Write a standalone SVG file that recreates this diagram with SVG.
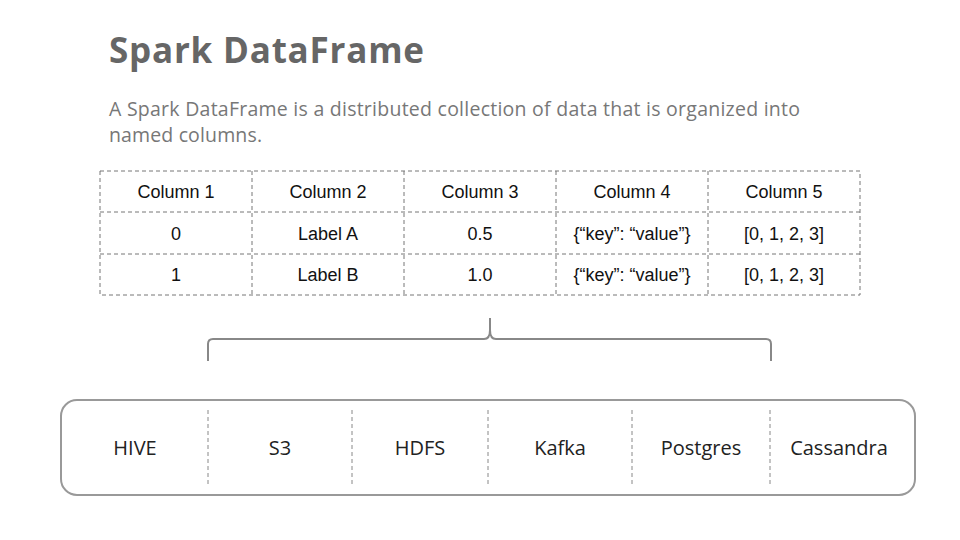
<svg xmlns="http://www.w3.org/2000/svg" width="960" height="540" viewBox="0 0 960 540">
<style>
.title{font-family:"Open Sans",Lato,sans-serif;font-weight:bold;font-size:35px;fill:#666666}
.desc{font-family:"Open Sans",Lato,sans-serif;font-size:19.5px;fill:#777777}
.cell{font-family:"Liberation Sans",Arial,sans-serif;font-size:18px;fill:#111111;text-anchor:middle}
.grid{stroke:#777777;stroke-width:1;stroke-dasharray:4 3;fill:none}
.src{font-family:"Open Sans",Lato,sans-serif;font-size:20px;fill:#222222;text-anchor:middle}
.div{stroke:#888888;stroke-width:1;stroke-dasharray:4 3}
</style>
<rect width="960" height="540" fill="#ffffff"/>
<g id="title">
<text class="title" x="109" y="63" textLength="315">Spark DataFrame</text>
</g>
<g id="description">
<text class="desc" x="109" y="116" textLength="691">A Spark DataFrame is a distributed collection of data that is organized into</text>
<text class="desc" x="109" y="142" textLength="153">named columns.</text>
</g>
<g id="table">
<rect class="grid" x="100" y="171" width="760" height="124"/>
<line class="grid" x1="100" y1="212" x2="860" y2="212"/>
<line class="grid" x1="100" y1="254" x2="860" y2="254"/>
<line class="grid" x1="252" y1="171" x2="252" y2="295"/>
<line class="grid" x1="404" y1="171" x2="404" y2="295"/>
<line class="grid" x1="556" y1="171" x2="556" y2="295"/>
<line class="grid" x1="708" y1="171" x2="708" y2="295"/>
<text class="cell" x="176" y="198">Column 1</text>
<text class="cell" x="328" y="198">Column 2</text>
<text class="cell" x="480" y="198">Column 3</text>
<text class="cell" x="632" y="198">Column 4</text>
<text class="cell" x="784" y="198">Column 5</text>
<text class="cell" x="176" y="240">0</text>
<text class="cell" x="328" y="240">Label A</text>
<text class="cell" x="480" y="240">0.5</text>
<text class="cell" x="632" y="240">{“key”: “value”}</text>
<text class="cell" x="784" y="240">[0, 1, 2, 3]</text>
<text class="cell" x="176" y="281">1</text>
<text class="cell" x="328" y="281">Label B</text>
<text class="cell" x="480" y="281">1.0</text>
<text class="cell" x="632" y="281">{“key”: “value”}</text>
<text class="cell" x="784" y="281">[0, 1, 2, 3]</text>
</g>
<g id="connectors">
<path d="M208,361 L208,344 Q208,339 213,339 L484,339 Q490,339 490,330 L490,318 M490,330 Q490,339 496,339 L766,339 Q771,339 771,344 L771,361" fill="none" stroke="#888888" stroke-width="2"/>
</g>
<g id="sources">
<rect x="61" y="400" width="854" height="95" rx="16" ry="16" fill="none" stroke="#999999" stroke-width="2"/>
<line class="div" x1="208" y1="410" x2="208" y2="484"/>
<line class="div" x1="352" y1="410" x2="352" y2="484"/>
<line class="div" x1="488" y1="410" x2="488" y2="484"/>
<line class="div" x1="632" y1="410" x2="632" y2="484"/>
<line class="div" x1="770" y1="410" x2="770" y2="484"/>
<text class="src" x="135" y="455">HIVE</text>
<text class="src" x="280" y="455">S3</text>
<text class="src" x="420" y="455">HDFS</text>
<text class="src" x="560" y="455">Kafka</text>
<text class="src" x="701" y="455">Postgres</text>
<text class="src" x="839" y="455">Cassandra</text>
</g>
</svg>
